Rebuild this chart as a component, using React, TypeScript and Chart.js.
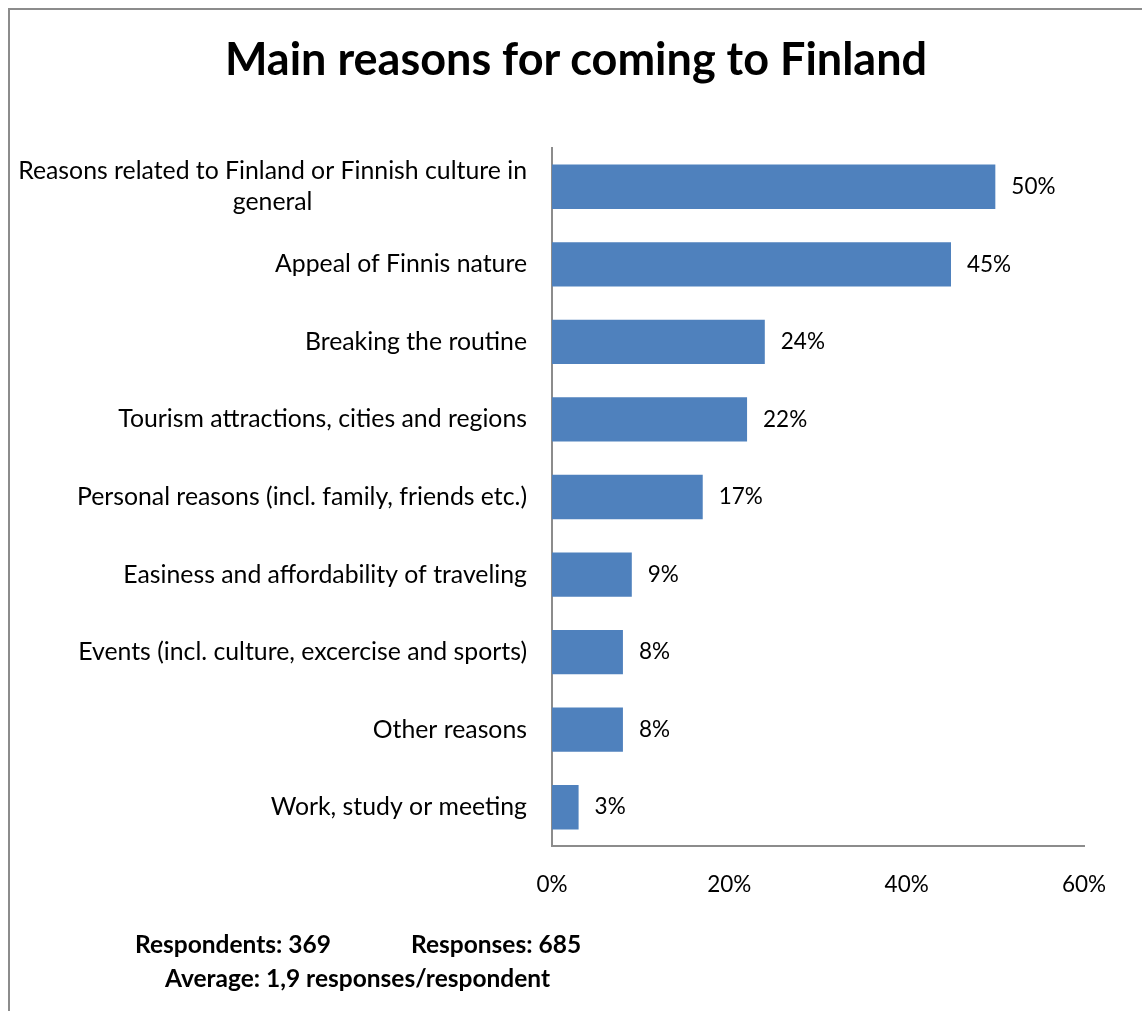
import React, { useEffect, useRef } from "react";
import { Chart, registerables } from "chart.js";

Chart.register(...registerables);

const chartTitle = "Main reasons for coming to Finland";
const categories: (string | string[])[] = [
  ["Reasons related to Finland or Finnish culture in", "general"],
  "Appeal of Finnis nature",
  "Breaking the routine",
  "Tourism attractions, cities and regions",
  "Personal reasons (incl. family, friends etc.)",
  "Easiness and affordability of traveling",
  "Events (incl. culture, excercise and sports)",
  "Other reasons",
  "Work, study or meeting",
];
const values = [50, 45, 24, 22, 17, 9, 8, 8, 3];
const xMin = 0;
const xMax = 60;
const xStep = 20;
const footerRespondents = "Respondents: 369";
const footerResponses = "Responses: 685";
const footerAverage = "Average: 1,9 responses/respondent";

const FONT = "Lato, 'Open Sans', sans-serif";
const LABEL_SIZE = 24.8;
const NUM_SIZE = 22.5;
const LINE_H = 31;
const BAR_COLOR = "#4F81BD";
const AXIS_COLOR = "#8c8c8c";

const W = 1142;
const H = 1011;
const PLOT_LEFT = 552;
const PLOT_RIGHT = 1084;
const PLOT_TOP = 148;
const PLOT_BOTTOM = 846;

const labelPlugin = {
  id: "customLabels",
  afterDraw(chart: any) {
    const ctx = chart.ctx as CanvasRenderingContext2D;
    const yScale = chart.scales.y;
    ctx.save();
    ctx.fillStyle = "#000";
    ctx.font = `${LABEL_SIZE}px ${FONT}`;
    ctx.textBaseline = "middle";
    const xr = chart.chartArea.left - 25;
    categories.forEach((c, i) => {
      const lines = Array.isArray(c) ? c : [c];
      const cy = yScale.getPixelForValue(i);
      const w = Math.max(...lines.map((l) => ctx.measureText(l).width));
      lines.forEach((l, j) => {
        const ly = cy + (j - (lines.length - 1) / 2) * LINE_H;
        ctx.textAlign = "center";
        ctx.fillText(l, xr - w / 2, ly);
      });
    });
    // value labels
    ctx.font = `${NUM_SIZE}px ${FONT}`;
    const meta = chart.getDatasetMeta(0);
    ctx.textAlign = "left";
    meta.data.forEach((el: any, i: number) => {
      ctx.fillText(values[i] + "%", el.x + 16, el.y);
    });
    ctx.restore();
  },
};

export default function App() {
  const ref = useRef<HTMLCanvasElement | null>(null);
  useEffect(() => {
    if (!ref.current) return;
    const chart = new Chart(ref.current, {
      type: "bar",
      data: {
        labels: categories.map((c) => (Array.isArray(c) ? c.join(" ") : c)),
        datasets: [
          {
            data: values,
            backgroundColor: BAR_COLOR,
            borderWidth: 0,
            categoryPercentage: 1,
            barPercentage: 1 / 1.75,
          },
        ],
      },
      options: {
        indexAxis: "y",
        responsive: false,
        animation: false,
        layout: {
          padding: { left: 0, right: W - PLOT_RIGHT, top: PLOT_TOP, bottom: 0 },
        },
        plugins: {
          legend: { display: false },
          tooltip: { enabled: false },
          title: { display: false },
        },
        scales: {
          x: {
            min: xMin,
            max: xMax,
            grid: { display: false, drawTicks: false },
            border: { display: true, color: AXIS_COLOR, width: 2 },
            ticks: {
              stepSize: xStep,
              padding: 25,
              color: "#000",
              font: { family: FONT, size: NUM_SIZE },
              callback: (v: any) => v + "%",
            },
            afterFit: (s: any) => {
              s.height = H - PLOT_BOTTOM;
            },
          },
          y: {
            grid: { display: false, drawTicks: false },
            border: { display: true, color: AXIS_COLOR, width: 2 },
            ticks: { display: false },
            afterFit: (s: any) => {
              s.width = PLOT_LEFT;
            },
          },
        },
      },
      plugins: [labelPlugin],
    });
    return () => chart.destroy();
  }, []);

  const textBase: React.CSSProperties = {
    position: "absolute",
    fontFamily: FONT,
    color: "#000",
    whiteSpace: "nowrap",
    lineHeight: 1,
  };

  return (
    <div style={{ position: "fixed", left: 0, top: 0, width: W, height: H, overflow: "hidden", background: "#fff" }}>
      <div
        style={{
          position: "absolute",
          left: 8,
          top: 8,
          width: W + 50,
          height: H + 50,
          borderLeft: "2px solid " + AXIS_COLOR,
          borderTop: "2px solid " + AXIS_COLOR,
        }}
      />
      <canvas ref={ref} width={W} height={H} style={{ position: "absolute", left: 0, top: 0, width: W, height: H }} />
      <div style={{ ...textBase, left: 0, width: 1152, top: 36, textAlign: "center", fontSize: 45, fontWeight: 700 }}>
        {chartTitle}
      </div>
      <div style={{ ...textBase, left: 135, top: 932, fontSize: 24.5, fontWeight: 700 }}>{footerRespondents}</div>
      <div style={{ ...textBase, left: 411, top: 932, fontSize: 24.5, fontWeight: 700 }}>{footerResponses}</div>
      <div style={{ ...textBase, left: 0, width: 715, top: 966, textAlign: "center", fontSize: 24.5, fontWeight: 700 }}>
        {footerAverage}
      </div>
    </div>
  );
}
